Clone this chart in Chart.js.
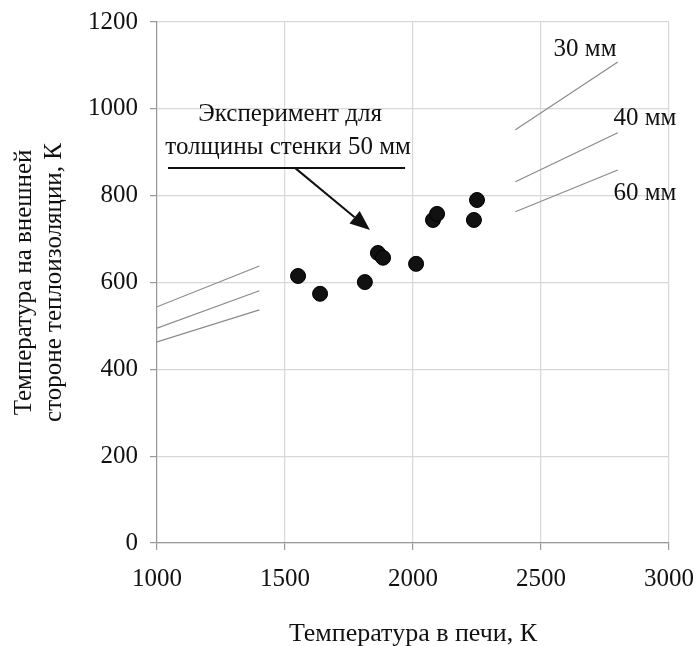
<!DOCTYPE html>
<html>
<head>
<meta charset="utf-8">
<script src="https://cdn.jsdelivr.net/npm/chart.js@4.4.0/dist/chart.umd.min.js"></script>
<style>
html,body{margin:0;padding:0;background:#fff;}
#wrap{width:698px;height:646px;}
</style>
</head>
<body>
<div id="wrap"><canvas id="c" width="698" height="646"></canvas></div>
<script>
// Experimental points (furnace temperature, outer insulation surface temperature)
const expX = [1551, 1637, 1812, 1863, 1883, 2012, 2078, 2094, 2238, 2250];
const expY = [615, 574, 601, 668, 657, 643, 744, 758, 744, 790];

// Calculated lines for wall thicknesses (left and right segments)
const lineX_left = [1000, 1400];
const lineX_right = [2400, 2800];
const line30_left = [544, 638];
const line40_left = [495, 581];
const line60_left = [463, 537];
const line30_right = [952, 1108];
const line40_right = [832, 945];
const line60_right = [763, 859];

const xTicks = [1000, 1500, 2000, 2500, 3000];
const yTicks = [0, 200, 400, 600, 800, 1000, 1200];

const labels30 = '30 мм', labels40 = '40 мм', labels60 = '60 мм';
const annotLine1 = 'Эксперимент для';
const annotLine2 = 'толщины стенки 50 мм';

function pts(xs, ys){ return xs.map((x,i)=>({x:x, y:ys[i]})); }

const lineStyle = {type:'line', showLine:true, borderColor:'#8a8a8a', borderWidth:1.2, pointRadius:0, fill:false, tension:0};

const datasets = [
  Object.assign({data: pts(lineX_left, line30_left)}, lineStyle),
  Object.assign({data: pts(lineX_left, line40_left)}, lineStyle),
  Object.assign({data: pts(lineX_left, line60_left)}, lineStyle),
  Object.assign({data: pts(lineX_right, line30_right)}, lineStyle),
  Object.assign({data: pts(lineX_right, line40_right)}, lineStyle),
  Object.assign({data: pts(lineX_right, line60_right)}, lineStyle),
  {type:'scatter', data: pts(expX, expY), pointRadius:7.5, pointHoverRadius:7.5, backgroundColor:'#111', borderColor:'#000', borderWidth:1}
];

const FONT = "'Liberation Serif', 'Times New Roman', serif";

const annot = {
  id:'annot',
  afterDatasetsDraw(chart){
    const ctx = chart.ctx, xs = chart.scales.x, ys = chart.scales.y;
    const X = v=>xs.getPixelForValue(v), Y = v=>ys.getPixelForValue(v);
    ctx.save();
    ctx.fillStyle = '#111';
    ctx.textAlign = 'center';
    ctx.textBaseline = 'middle';
    ctx.font = '25px ' + FONT;
    ctx.fillText(labels30, X(2672), Y(1136));
    ctx.fillText(labels40, X(2906), Y(979));
    ctx.fillText(labels60, X(2906), Y(806));
    ctx.fillText(annotLine1, X(1520), Y(986));
    ctx.fillText(annotLine2, X(1512), Y(912));
    // underline
    ctx.strokeStyle = '#111';
    ctx.lineWidth = 2;
    ctx.beginPath();
    ctx.moveTo(X(1043), Y(864));
    ctx.lineTo(X(1969), Y(864));
    ctx.stroke();
    // arrow
    const x0 = X(1539), y0 = Y(864), x1 = X(1832), y1 = Y(721);
    const ang = Math.atan2(y1-y0, x1-x0);
    const L = 20, W = 8;
    const bx = x1 - L*Math.cos(ang), by = y1 - L*Math.sin(ang);
    ctx.lineWidth = 2;
    ctx.beginPath();
    ctx.moveTo(x0, y0);
    ctx.lineTo(bx, by);
    ctx.stroke();
    ctx.beginPath();
    ctx.moveTo(x1, y1);
    ctx.lineTo(bx + W*Math.sin(ang), by - W*Math.cos(ang));
    ctx.lineTo(bx - W*Math.sin(ang), by + W*Math.cos(ang));
    ctx.closePath();
    ctx.fill();
    ctx.restore();
  }
};

new Chart(document.getElementById('c'), {
  data: {datasets},
  options: {
    responsive:false,
    animation:false,
    layout:{padding:{top:22, right:29, left:0, bottom:0}},
    plugins:{legend:{display:false}, tooltip:{enabled:false}},
    scales:{
      x:{
        type:'linear', min:1000, max:3000,
        afterBuildTicks(s){ s.ticks = xTicks.map(v=>({value:v})); },
        afterFit(s){ s.height = 103; s.paddingLeft = 0; s.paddingRight = 0; },
        grid:{color:'#d8d8d8', lineWidth:1.2, tickLength:7, tickColor:'#999'},
        border:{color:'#999', width:1.2},
        ticks:{color:'#111', font:{family:FONT, size:25}, padding:14, maxRotation:0, callback:v=>String(v)},
        title:{display:true, text:'Температура в печи, К', color:'#111', font:{family:FONT, size:26}, padding:{top:2, bottom:-4}}
      },
      y:{
        type:'linear', min:0, max:1200,
        afterBuildTicks(s){ s.ticks = yTicks.map(v=>({value:v})); },
        afterFit(s){ s.width = 157; s.paddingTop = 0; s.paddingBottom = 0; },
        grid:{color:'#d8d8d8', lineWidth:1.2, tickLength:7, tickColor:'#999'},
        border:{color:'#999', width:1.2},
        ticks:{color:'#111', font:{family:FONT, size:25}, padding:12, callback:v=>String(v)},
        title:{display:true, text:['Температура на внешней','стороне теплоизоляции, К'], color:'#111', font:{family:FONT, size:25, lineHeight:1.2}, padding:{top:9, bottom:0}}
      }
    }
  },
  plugins:[annot]
});
</script>
</body>
</html>
